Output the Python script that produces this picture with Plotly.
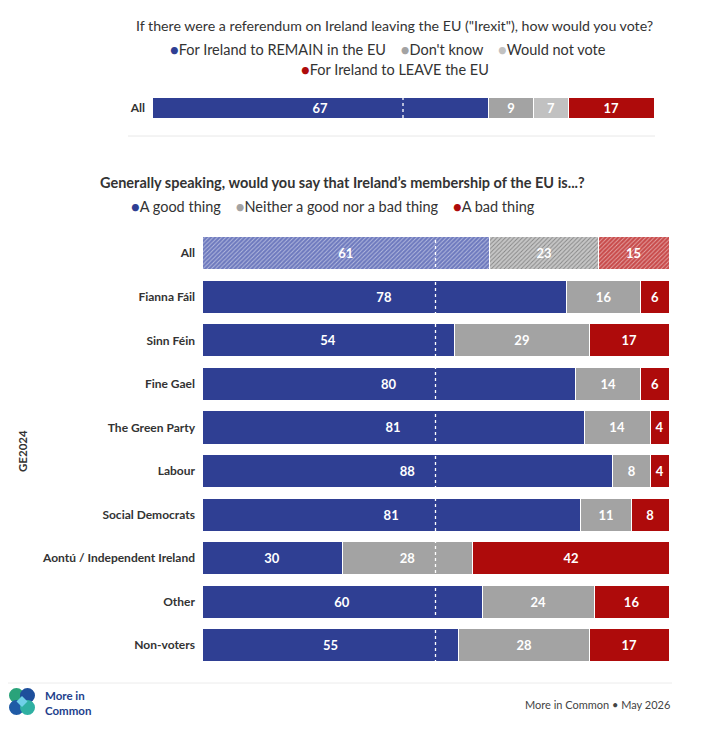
import plotly.graph_objects as go

W, H = 705, 753

# ---- data ----
top_cats = ["All"]
top_series = ["For Ireland to REMAIN in the EU", "Don't know", "Would not vote", "For Ireland to LEAVE the EU"]
top_values = [[67], [9], [7], [17]]

groups = ["All", "Fianna Fáil", "Sinn Féin", "Fine Gael", "The Green Party", "Labour",
          "Social Democrats", "Aontú / Independent Ireland", "Other", "Non-voters"]
series = ["A good thing", "Neither a good nor a bad thing", "A bad thing"]
good = [61, 78, 54, 80, 81, 88, 81, 30, 60, 55]
neither = [23, 16, 29, 14, 14, 8, 11, 28, 24, 28]
bad = [15, 6, 17, 6, 4, 4, 8, 42, 16, 17]

BLUE, GREY, LGREY, RED = "#2f3f93", "#a3a3a3", "#c1c1c1", "#ae0b0b"
HATCH = ["#6d79be", "#c6c6c6", "#c84a4a"]

FONT = "Lato"
TXT = "#333333"

def px(x):
    return x / W

def py(y):
    return 1 - y / H

fig = go.Figure()

# ---- top chart ----
for name, vals, col in zip(top_series, top_values, [BLUE, GREY, LGREY, RED]):
    fig.add_trace(go.Bar(
        y=top_cats, x=vals, orientation="h", name=name, marker=dict(color=col, line=dict(width=1, color="white")),
        text=vals, texttemplate="%{text}", textposition="inside", insidetextanchor="middle",
        textangle=0, constraintext="none",
        textfont=dict(color="white", size=13, family=FONT, weight="bold"),
        width=1, showlegend=False, xaxis="x", yaxis="y", hoverinfo="skip"))

# ---- bottom chart ----
bottom_vals = [good, neither, bad]
for name, vals, col, hcol in zip(series, bottom_vals, [BLUE, GREY, RED], HATCH):
    colors = [hcol] + [col] * (len(groups) - 1)
    shapes = ["/"] + [""] * (len(groups) - 1)
    fig.add_trace(go.Bar(
        y=groups, x=vals, orientation="h", name=name,
        marker=dict(color=colors, line=dict(width=1, color="white"),
                    pattern=dict(shape=shapes, fillmode="overlay", fgcolor="rgba(255,255,255,0.22)",
                                 size=3, solidity=0.3)),
        text=vals, texttemplate="%{text}", textposition="inside", insidetextanchor="middle",
        textangle=0, constraintext="none",
        textfont=dict(color="white", size=13, family=FONT, weight="bold"),
        width=0.76, showlegend=False, xaxis="x2", yaxis="y2", hoverinfo="skip"))

fig.update_layout(
    width=W, height=H, margin=dict(l=0, r=0, t=0, b=0),
    paper_bgcolor="white", plot_bgcolor="white",
    barmode="stack", barnorm="percent",
    font=dict(family=FONT, color=TXT),
    xaxis=dict(domain=[px(152), px(654)], range=[0, 100], visible=False, fixedrange=True, anchor="y"),
    yaxis=dict(domain=[py(118), py(97)], range=[-0.5, 0.5], showgrid=False, zeroline=False,
               ticks="", ticklabelstandoff=6, anchor="x",
               tickfont=dict(size=12, family=FONT, color=TXT, weight="bold")),
    xaxis2=dict(domain=[px(202), px(669)], range=[0, 100], visible=False, fixedrange=True, anchor="y2"),
    yaxis2=dict(domain=[py(667), py(231.5)], range=[9.5, -0.5], showgrid=False, zeroline=False,
                ticks="", ticklabelstandoff=6, anchor="x2",
                tickfont=dict(size=12, family=FONT, color=TXT, weight="bold")),
)

# dashed 50% lines
fig.add_shape(type="line", xref="x", yref="paper", x0=50, x1=50, y0=py(118), y1=py(97),
              line=dict(color="white", width=1.3, dash="dot"), layer="above")
fig.add_shape(type="line", xref="x2", yref="paper", x0=50, x1=50, y0=py(663), y1=py(236),
              line=dict(color="white", width=1.3, dash="dot"), layer="above")

# separators
fig.add_shape(type="line", xref="paper", yref="paper", x0=px(128), x1=px(655), y0=py(136), y1=py(136),
              line=dict(color="#e8e8e8", width=1))
fig.add_shape(type="line", xref="paper", yref="paper", x0=px(8), x1=px(672), y0=py(683), y1=py(683),
              line=dict(color="#ececec", width=1))

# titles and legends
def ann(text, x, y, size, bold=False, xanchor="center", color=TXT, angle=0):
    fig.add_annotation(text=text, x=px(x), y=py(y), xref="paper", yref="paper", showarrow=False,
                       xanchor=xanchor, yanchor="middle", textangle=angle,
                       font=dict(size=size, family=FONT, color=color, weight="bold" if bold else "normal"))

def dot(c):
    return f"<span style='color:{c}'>●</span>"

ann("If there were a referendum on Ireland leaving the EU (\"Irexit\"), how would you vote?", 394, 26, 14.2)
ann(f"{dot(BLUE)}For Ireland to REMAIN in the EU    {dot(GREY)}Don't know    {dot(LGREY)}Would not vote", 388, 50, 14.5)
ann(f"{dot(RED)}For Ireland to LEAVE the EU", 395, 69, 14.5)

ann("Generally speaking, would you say that Ireland’s membership of the EU is...?", 342, 182, 14.5, bold=True)
ann(f"{dot(BLUE)}A good thing    {dot(GREY)}Neither a good nor a bad thing    {dot(RED)}A bad thing", 333, 207, 14.5)

ann("GE2024", 22, 451, 11.5, bold=True, angle=-90)

# footer
ann("More in Common • May 2026", 672, 704, 11, xanchor="right", color="#444444")
fig.add_annotation(text="More in<br>Common", x=px(43), y=py(703), xref="paper", yref="paper", showarrow=False,
                   xanchor="left", yanchor="middle", align="left",
                   font=dict(size=11.5, family=FONT, color="#233f8c", weight="bold"))

# logo circles
logo = [(16.5, 695.5, "#2aa37a"), (27.5, 695.5, "#1e4f9c"), (16.5, 707.5, "#1f5ba6"), (27.5, 707.5, "#2fb0a2")]
r = 7.5
for cx, cy, c in logo:
    fig.add_shape(type="circle", xref="paper", yref="paper",
                  x0=px(cx - r), x1=px(cx + r), y0=py(cy + r), y1=py(cy - r),
                  fillcolor=c, line=dict(width=0))
fig.add_shape(type="path", xref="paper", yref="paper",
              path=f"M {px(22)} {py(696)} L {px(27.5)} {py(701.5)} L {px(22)} {py(707)} L {px(16.5)} {py(701.5)} Z",
              fillcolor="#6fd0e8", line=dict(width=0))

fig.write_html("out.html")
